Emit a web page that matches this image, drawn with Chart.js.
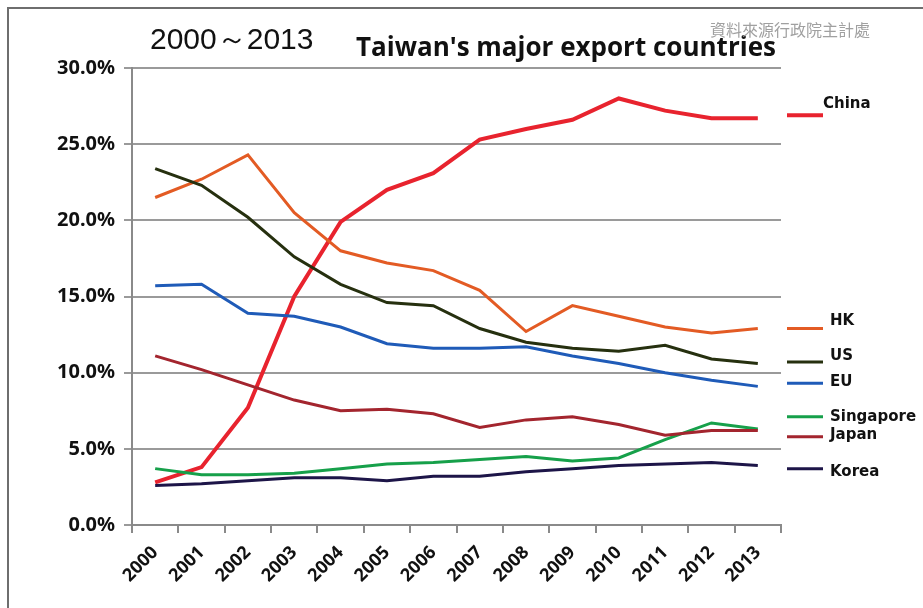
<!DOCTYPE html>
<html>
<head>
<meta charset="utf-8">
<script src="https://cdn.jsdelivr.net/npm/chart.js@4.4.0/dist/chart.umd.min.js"></script>
<style>
  html, body { margin: 0; padding: 0; background: #fff; }
  #wrap { width: 923px; height: 608px; position: relative; }
</style>
</head>
<body>
<div id="wrap"><canvas id="mainChart"></canvas></div>
<script>
// Data (share of Taiwan's exports, %)
const years = ['2000', '2001', '2002', '2003', '2004', '2005', '2006', '2007', '2008', '2009', '2010', '2011', '2012', '2013'];
const china     = [2.8, 3.8, 7.7, 15.0, 19.9, 22.0, 23.1, 25.3, 26.0, 26.6, 28.0, 27.2, 26.7, 26.7];
const hk        = [21.5, 22.7, 24.3, 20.5, 18.0, 17.2, 16.7, 15.4, 12.7, 14.4, 13.7, 13.0, 12.6, 12.9];
const us        = [23.4, 22.3, 20.2, 17.6, 15.8, 14.6, 14.4, 12.9, 12.0, 11.6, 11.4, 11.8, 10.9, 10.6];
const eu        = [15.7, 15.8, 13.9, 13.7, 13.0, 11.9, 11.6, 11.6, 11.7, 11.1, 10.6, 10.0, 9.5, 9.1];
const singapore = [3.7, 3.3, 3.3, 3.4, 3.7, 4.0, 4.1, 4.3, 4.5, 4.2, 4.4, 5.6, 6.7, 6.3];
const japan     = [11.1, 10.2, 9.2, 8.2, 7.5, 7.6, 7.3, 6.4, 6.9, 7.1, 6.6, 5.9, 6.2, 6.2];
const korea     = [2.6, 2.7, 2.9, 3.1, 3.1, 2.9, 3.2, 3.2, 3.5, 3.7, 3.9, 4.0, 4.1, 3.9];
const yTicks = [0, 5, 10, 15, 20, 25, 30];

// right-hand labels: level (%) of each key line and of its text
const labelNames = ['China', 'HK', 'US', 'EU', 'Singapore', 'Japan', 'Korea'];
const lineLevels = [26.9, 12.9, 10.7, 9.3, 7.1, 5.8, 3.7];
const textLevels = [27.6, 13.4, 11.1, 9.4, 7.1, 5.9, 3.5];

const colors = ['#E8232E', '#E35B24', '#26300F', '#1F5BB8', '#16A04A', '#A3252E', '#1D1548'];
const seriesList = [china, hk, us, eu, singapore, japan, korea];

const titlePlugin = {
    id: 'titles',
    afterDraw(chart) {
        const c = chart.ctx;
        c.save();
        // frame
        c.strokeStyle = '#6e6e6e';
        c.lineWidth = 2;
        c.beginPath();
        c.moveTo(chart.width, 8);
        c.lineTo(8, 8);
        c.lineTo(8, chart.height);
        c.stroke();

        c.fillStyle = '#111';
        c.textBaseline = 'alphabetic';
        c.font = '30px "Liberation Sans", Arial, sans-serif';
        c.fillText('2000～2013', 150, 49);
        c.font = 'bold 26px "Open Sans", sans-serif';
        c.fillText("Taiwan's major export countries", 356, 56);
        c.fillStyle = '#a0a0a0';
        c.font = '16px "Noto Sans CJK TC", sans-serif';
        c.textBaseline = 'middle';
        c.fillText('資料來源行政院主計處', 710, 30);
        c.restore();
    }
};

const sideLabels = {
    id: 'sideLabels',
    afterDraw(chart) {
        const c = chart.ctx;
        const y = chart.scales.y;
        const x0 = chart.chartArea.right + 6;
        c.save();
        labelNames.forEach((name, i) => {
            const py = y.getPixelForValue(lineLevels[i]);
            c.strokeStyle = colors[i];
            c.lineWidth = i === 0 ? 4 : 3;
            c.beginPath();
            c.moveTo(x0, py);
            c.lineTo(x0 + 36, py);
            c.stroke();
            c.fillStyle = '#111';
            c.font = 'bold 15px "DejaVu Sans", sans-serif';
            c.textBaseline = 'middle';
            c.fillText(name, i === 0 ? x0 + 36 : x0 + 43, y.getPixelForValue(textLevels[i]));
        });
        c.restore();
    }
};

const mainCtx = document.getElementById('mainChart').getContext('2d');

const mainChart = new Chart(mainCtx, {
    type: 'line',
    data: {
        labels: years,
        datasets: seriesList.map((data, i) => ({
            label: labelNames[i],
            data: data,
            borderColor: colors[i],
            borderWidth: i === 0 ? 4 : 3,
            fill: false,
            tension: 0,
            pointRadius: 0
        })).reverse()
    },
    options: {
        responsive: true,
        maintainAspectRatio: false,
        animation: false,
        layout: {
            padding: { top: 68, right: 142, left: 0, bottom: 0 }
        },
        plugins: {
            legend: { display: false },
            tooltip: { enabled: false }
        },
        scales: {
            y: {
                min: 0,
                max: 30,
                afterBuildTicks: (scale) => {
                    scale.ticks = yTicks.map(v => ({ value: v }));
                },
                afterFit: (scale) => { scale.width = 132; },
                ticks: {
                    padding: 9,
                    callback: (value) => value.toFixed(1) + '%',
                    color: '#111',
                    font: { family: '"Noto Sans", sans-serif', size: 20, weight: 'bold' }
                },
                grid: {
                    color: '#9a9a9a',
                    lineWidth: 2,
                    tickLength: 8
                },
                border: { color: '#8a8a8a', width: 2 }
            },
            x: {
                offset: true,
                afterFit: (scale) => { scale.height = 83; },
                ticks: {
                    maxRotation: 45,
                    minRotation: 45,
                    padding: 9,
                    color: '#111',
                    font: { family: '"Noto Sans", sans-serif', size: 18, weight: 'bold' }
                },
                grid: {
                    display: true,
                    drawOnChartArea: false,
                    offset: true,
                    color: '#8a8a8a',
                    lineWidth: 2,
                    tickLength: 8
                },
                border: { color: '#8a8a8a', width: 2 }
            }
        }
    },
    plugins: [titlePlugin, sideLabels]
});
</script>
</body>
</html>
